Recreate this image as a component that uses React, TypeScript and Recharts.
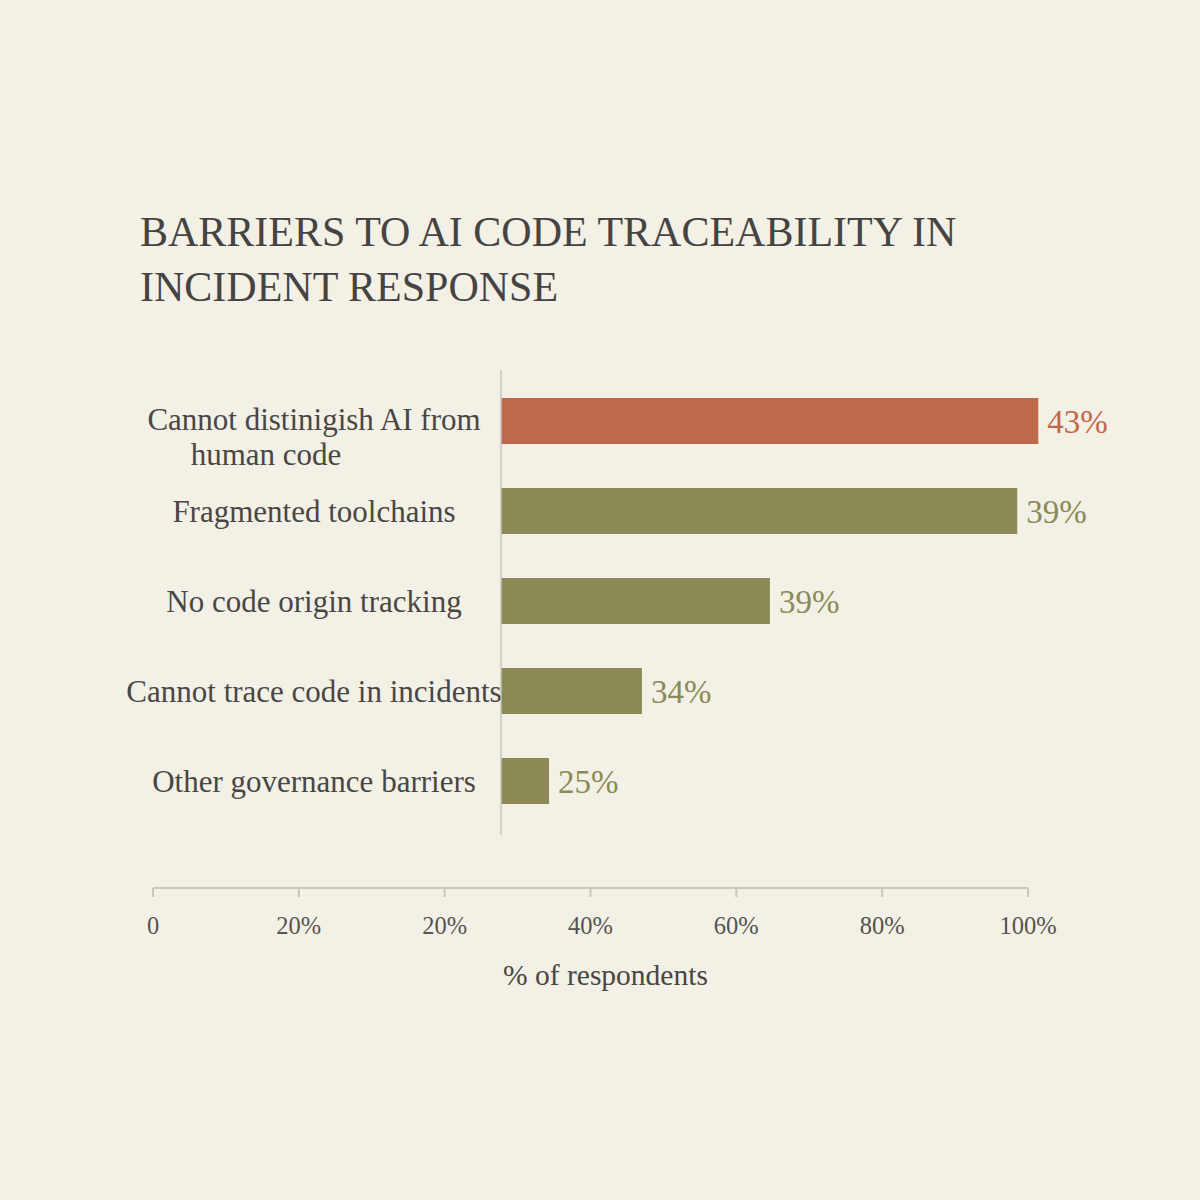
import React from 'react';
import { BarChart, Bar, XAxis, YAxis, Cell, LabelList, LineChart, Label } from 'recharts';

// chart content
const categories = [
  'Cannot distinigish AI from\nhuman code',
  'Fragmented toolchains',
  'No code origin tracking',
  'Cannot trace code in incidents',
  'Other governance barriers',
];
// printed labels next to each bar
const shownPct = [43, 39, 39, 34, 25];
// bar extent as drawn (0-100 of the bar area); the picture's bars don't follow the printed %
const barLength = [99.5, 95.6, 49.8, 26.1, 8.9];
// bottom axis labels as printed (note the repeated 20%)
const axisTicks = ['0', '20%', '20%', '40%', '60%', '80%', '100%'];
const axisTitle = '% of respondents';

const data = categories.map((name, i) => ({ name, len: barLength[i], shown: shownPct[i] }));
const axisData = axisTicks.map((label, i) => ({ i, label }));

const FONT = '"Liberation Serif", "Times New Roman", serif';
const BG = '#f3f0e6';
const TEXT = '#484745';
const RED = '#c0684c';
const OLIVE = '#8b8a56';
const AXIS = '#c9c6bc';
const LABEL_CENTER = 314;

const CategoryTick = (props: any) => {
  const { y, payload } = props;
  const lines = String(payload.value).split('\n');
  const first = lines.length > 1 ? 9 : 11;
  return (
    <g>
      {lines.map((line, k) => (
        <text
          key={k}
          x={LABEL_CENTER - (k > 0 ? 48 : 0)}
          y={y + first + k * 35}
          textAnchor="middle"
          fontFamily={FONT}
          fontSize={31}
          fill={TEXT}
        >
          {line}
        </text>
      ))}
    </g>
  );
};

const ValueLabel = (props: any) => {
  const { x, y, width, height, value, index } = props;
  return (
    <text
      x={x + width + 9}
      y={y + height / 2 + 1}
      dominantBaseline="central"
      fontFamily={FONT}
      fontSize={33}
      fill={index === 0 ? RED : OLIVE}
    >
      {value}%
    </text>
  );
};

const App: React.FC = () => {
  return (
    <div style={{ position: 'absolute', left: 0, top: 0, width: 1200, height: 1200, background: BG, overflow: 'hidden' }}>
      <div
        style={{
          position: 'absolute',
          left: 140,
          top: 205,
          fontFamily: FONT,
          fontSize: 42,
          lineHeight: '55px',
          color: '#454442',
          whiteSpace: 'nowrap',
        }}
      >
        BARRIERS TO AI CODE TRACEABILITY IN
        <br />
        INCIDENT RESPONSE
      </div>

      <div style={{ position: 'absolute', left: 0, top: 0 }}>
        <BarChart
          width={1200}
          height={1200}
          data={data}
          layout="vertical"
          margin={{ top: 370, right: 159, bottom: 365, left: 0 }}
        >
          <XAxis type="number" domain={[0, 100]} hide />
          <YAxis
            type="category"
            dataKey="name"
            width={501}
            axisLine={{ stroke: AXIS, strokeWidth: 1.5 }}
            tickLine={false}
            tick={<CategoryTick />}
            padding={{ top: 6, bottom: 9 }}
          />
          <Bar dataKey="len" barSize={46} isAnimationActive={false}>
            {data.map((d, i) => (
              <Cell key={d.name} fill={i === 0 ? RED : OLIVE} />
            ))}
            <LabelList dataKey="shown" content={<ValueLabel />} />
          </Bar>
        </BarChart>
      </div>

      <div style={{ position: 'absolute', left: 0, top: 0, pointerEvents: 'none' }}>
        <LineChart
          width={1200}
          height={1200}
          data={axisData}
          margin={{ top: 0, right: 172, bottom: 202, left: 153 }}
        >
          <XAxis
            type="number"
            dataKey="i"
            domain={[0, 6]}
            ticks={[0, 1, 2, 3, 4, 5, 6]}
            tickFormatter={(v: number) => axisTicks[v]}
            height={110}
            axisLine={{ stroke: AXIS, strokeWidth: 2 }}
            tickLine={{ stroke: AXIS, strokeWidth: 2 }}
            tickSize={9}
            tickMargin={20}
            tick={{ fontFamily: FONT, fontSize: 24.5, fill: '#555450' }}
            interval={0}
          >
            <Label
              content={(p: any) => {
                const vb = p.viewBox || { x: 153, width: 875 };
                return (
                  <text
                    x={vb.x + vb.width / 2 + 15}
                    y={985}
                    textAnchor="middle"
                    fontFamily={FONT}
                    fontSize={29.5}
                    fill={TEXT}
                  >
                    {axisTitle}
                  </text>
                );
              }}
            />
          </XAxis>
          <YAxis hide />
        </LineChart>
      </div>
    </div>
  );
};

export default App;
